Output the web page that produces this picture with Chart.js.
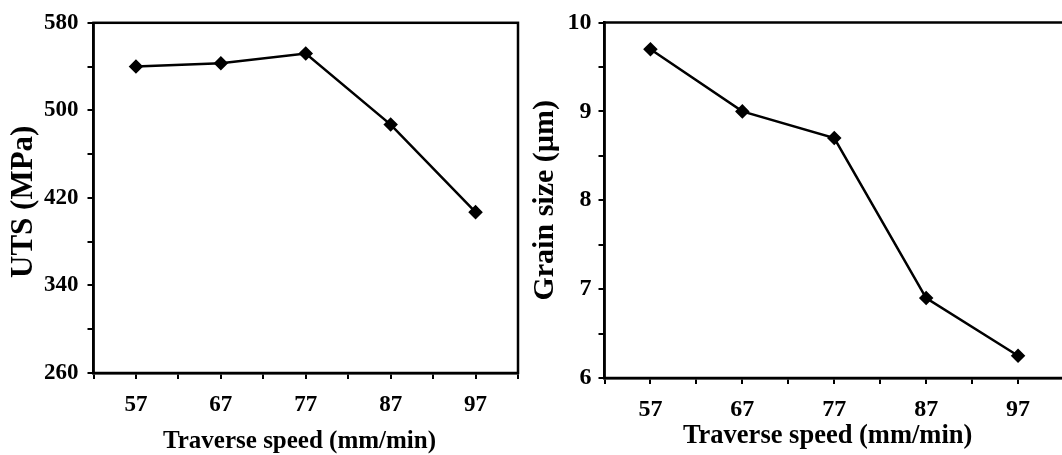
<!DOCTYPE html>
<html>
<head>
<meta charset="utf-8">
<script src="https://cdn.jsdelivr.net/npm/chart.js"></script>
<style>
  html, body { margin: 0; padding: 0; background: #fff; overflow: hidden; width: 1062px; height: 455px; }
  canvas { position: absolute; top: 0; }
  #utsChart { left: 0; }
  #grainChart { left: 530px; }
</style>
</head>
<body>
<canvas id="utsChart" width="530" height="455"></canvas>
<canvas id="grainChart" width="545" height="455"></canvas>
<script>
"use strict";
// valores
const speeds = [57, 67, 77, 87, 97];
const utsValues = [540, 543, 552, 487, 407];
const grainValues = [9.7, 9.0, 8.7, 6.9, 6.25];
const speedTickLabels = [57, 67, 77, 87, 97];
const utsTickLabels = [260, 340, 420, 500, 580];
const grainTickLabels = [6, 7, 8, 9, 10];

const FONT = "'Liberation Serif', 'Times New Roman', serif";

// moldura completa em volta da área do gráfico
const framePlugin = {
  id: 'frame',
  afterDraw(chart) {
    const a = chart.chartArea;
    const ctx = chart.ctx;
    ctx.save();
    ctx.strokeStyle = '#000';
    ctx.lineWidth = 2.5;
    ctx.strokeRect(a.left, a.top, a.right - a.left, a.bottom - a.top);
    ctx.restore();
  }
};

function renderGrafico(canvasId, values, cfg) {
  const ctx = document.getElementById(canvasId).getContext('2d');
  return new Chart(ctx, {
    type: 'line',
    data: {
      datasets: [{
        data: speeds.map((s, i) => ({ x: s, y: values[i] })),
        borderColor: '#000',
        backgroundColor: '#000',
        borderWidth: 2.5,
        pointStyle: 'rectRot',
        pointRadius: 5.5,
        pointBackgroundColor: '#000',
        pointBorderColor: '#000',
        tension: 0
      }]
    },
    options: {
      responsive: false,
      animation: false,
      layout: { padding: cfg.padding },
      plugins: {
        legend: { display: false },
        tooltip: { enabled: false }
      },
      scales: {
        x: {
          type: 'linear',
          min: 52,
          max: 102,
          afterFit: (s) => { s.height = cfg.xHeight; },
          ticks: {
            stepSize: 5,
            autoSkip: false,
            maxRotation: 0,
            color: '#000',
            padding: cfg.xTickPad,
            font: { family: FONT, weight: 'bold', size: cfg.tickSize },
            callback: (v) => speedTickLabels.includes(v) ? String(v) : ''
          },
          grid: { drawOnChartArea: false, drawTicks: true, tickLength: 6, color: '#000', lineWidth: 2 },
          border: { display: true, color: '#000', width: 2.5 },
          title: {
            display: true,
            text: 'Traverse speed (mm/min)\u2002',
            color: '#000',
            padding: { top: 0, bottom: cfg.xTitlePad },
            font: { family: FONT, weight: 'bold', size: cfg.xTitleSize, lineHeight: 1 }
          }
        },
        y: {
          min: cfg.yMin,
          max: cfg.yMax,
          afterFit: (s) => { s.width = cfg.yWidth; },
          ticks: {
            stepSize: cfg.yStep,
            autoSkip: false,
            color: '#000',
            padding: cfg.yTickPad,
            font: { family: FONT, weight: 'bold', size: cfg.tickSize },
            callback: (v) => cfg.yLabels.includes(v) ? String(v) : ''
          },
          grid: { drawOnChartArea: false, drawTicks: true, tickLength: 6, color: '#000', lineWidth: 2 },
          border: { display: true, color: '#000', width: 2.5 },
          title: {
            display: true,
            text: cfg.yTitle,
            color: '#000',
            padding: { top: cfg.yTitlePad, bottom: 0 },
            font: { family: FONT, weight: 'bold', size: cfg.yTitleSize, lineHeight: 1 }
          }
        }
      }
    },
    plugins: [framePlugin]
  });
}

renderGrafico('utsChart', utsValues, {
  padding: { left: 0, top: 21, right: 8.5, bottom: 0 },
  yMin: 260, yMax: 580, yStep: 40, yLabels: utsTickLabels,
  yTitle: 'UTS (MPa) ',
  yWidth: 93.5, xHeight: 82,
  tickSize: 23, xTitleSize: 25, yTitleSize: 31,
  xTickPad: 12, yTickPad: 9, xTitlePad: 1, yTitlePad: 8
});

renderGrafico('grainChart', grainValues, {
  padding: { left: 0, top: 22.5, right: 8.5, bottom: 0 },
  yMin: 6, yMax: 10, yStep: 0.5, yLabels: grainTickLabels,
  yTitle: 'Grain size (\u00b5m)',
  yWidth: 74.5, xHeight: 77,
  tickSize: 24, xTitleSize: 26.5, yTitleSize: 30,
  xTickPad: 11, yTickPad: 7, xTitlePad: 6, yTitlePad: 0
});
</script>
</body>
</html>
